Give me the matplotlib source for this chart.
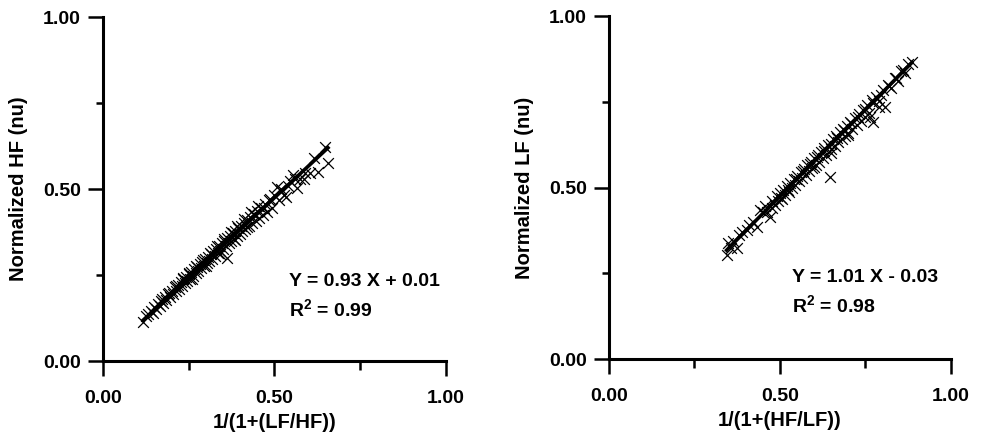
import matplotlib
matplotlib.use("Agg")
import matplotlib.pyplot as plt
import numpy as np

plt.rcParams['font.family'] = ['Liberation Sans', 'DejaVu Sans']
plt.rcParams['font.weight'] = 'bold'
plt.rcParams['mathtext.fontset'] = 'custom'
plt.rcParams['mathtext.rm'] = 'Liberation Sans:bold'
plt.rcParams['mathtext.bf'] = 'Liberation Sans:bold'

# ---- Left panel data: normalized HF vs 1/(1+(LF/HF)) ----
hf_x = [0.117, 0.125, 0.132, 0.140, 0.146, 0.150, 0.155, 0.160, 0.165, 0.170,
        0.175, 0.180, 0.185, 0.190, 0.195, 0.200, 0.205, 0.210, 0.214, 0.218,
        0.222, 0.226, 0.230, 0.234, 0.238, 0.242, 0.246, 0.250, 0.254, 0.258,
        0.262, 0.266, 0.270, 0.274, 0.278, 0.282, 0.286, 0.290, 0.294, 0.298,
        0.302, 0.306, 0.310, 0.314, 0.318, 0.322, 0.326, 0.330, 0.334, 0.338,
        0.342, 0.346, 0.350, 0.354, 0.358, 0.361, 0.362, 0.366, 0.370, 0.374,
        0.378, 0.382, 0.386, 0.390, 0.394, 0.398, 0.402, 0.406, 0.410, 0.415,
        0.420, 0.425, 0.430, 0.435, 0.440, 0.445, 0.450, 0.455, 0.460, 0.466,
        0.472, 0.478, 0.485, 0.492, 0.500, 0.506, 0.512, 0.520, 0.528, 0.535,
        0.545, 0.555, 0.565, 0.575, 0.590, 0.604, 0.615, 0.628, 0.647, 0.656,
        0.172, 0.192, 0.212, 0.232, 0.252, 0.272, 0.292, 0.312, 0.332, 0.352,
        0.372, 0.392, 0.412, 0.432, 0.452, 0.470, 0.488, 0.515, 0.540, 0.560,
        0.585, 0.342, 0.384, 0.420, 0.300, 0.260]
hf_y = [0.113, 0.130, 0.136, 0.146, 0.140, 0.158, 0.150, 0.166, 0.160, 0.176,
        0.168, 0.186, 0.178, 0.194, 0.186, 0.204, 0.195, 0.214, 0.204, 0.222,
        0.211, 0.229, 0.218, 0.238, 0.226, 0.244, 0.233, 0.252, 0.240, 0.260,
        0.248, 0.267, 0.255, 0.274, 0.262, 0.282, 0.270, 0.289, 0.277, 0.297,
        0.284, 0.304, 0.291, 0.312, 0.298, 0.319, 0.305, 0.327, 0.313, 0.334,
        0.320, 0.342, 0.327, 0.349, 0.335, 0.299, 0.357, 0.342, 0.364, 0.349,
        0.372, 0.356, 0.379, 0.363, 0.386, 0.370, 0.394, 0.377, 0.401, 0.384,
        0.410, 0.392, 0.418, 0.400, 0.428, 0.408, 0.436, 0.416, 0.446, 0.424,
        0.456, 0.433, 0.467, 0.445, 0.482, 0.506, 0.468, 0.500, 0.482, 0.477,
        0.524, 0.541, 0.503, 0.530, 0.548, 0.546, 0.590, 0.549, 0.622, 0.575,
        0.180, 0.199, 0.219, 0.241, 0.257, 0.276, 0.295, 0.315, 0.334, 0.354,
        0.374, 0.393, 0.412, 0.432, 0.451, 0.446, 0.470, 0.497, 0.510, 0.528,
        0.530, 0.312, 0.352, 0.389, 0.276, 0.240]
hf_fit = (0.93, 0.01)          # slope, intercept
hf_text = ["Y = 0.93 X + 0.01", "R$^{2}$ = 0.99"]

# ---- Right panel data: normalized LF vs 1/(1+(HF/LF)) ----
lf_x = [0.344, 0.349, 0.356, 0.362, 0.373, 0.380, 0.390, 0.403, 0.410, 0.420,
        0.432, 0.442, 0.450, 0.461, 0.471, 0.478, 0.485, 0.490, 0.495, 0.500,
        0.505, 0.510, 0.515, 0.520, 0.525, 0.530, 0.535, 0.540, 0.545, 0.550,
        0.555, 0.560, 0.565, 0.570, 0.575, 0.580, 0.585, 0.590, 0.595, 0.600,
        0.605, 0.610, 0.615, 0.620, 0.625, 0.630, 0.635, 0.640, 0.646, 0.650,
        0.655, 0.660, 0.665, 0.670, 0.675, 0.680, 0.685, 0.690, 0.695, 0.700,
        0.706, 0.712, 0.718, 0.724, 0.730, 0.736, 0.742, 0.748, 0.755, 0.763,
        0.770, 0.773, 0.780, 0.790, 0.800, 0.807, 0.815, 0.825, 0.835, 0.845,
        0.855, 0.865, 0.875, 0.885,
        0.455, 0.478, 0.502, 0.522, 0.548, 0.568, 0.588, 0.608, 0.628, 0.648,
        0.668, 0.688, 0.708, 0.728, 0.750, 0.772, 0.795, 0.820, 0.840, 0.860,
        0.600, 0.650, 0.700, 0.760, 0.790]
lf_y = [0.303, 0.337, 0.324, 0.345, 0.323, 0.362, 0.370, 0.376, 0.390, 0.400,
        0.386, 0.434, 0.430, 0.429, 0.415, 0.460, 0.450, 0.475, 0.460, 0.484,
        0.468, 0.494, 0.478, 0.504, 0.488, 0.514, 0.498, 0.524, 0.508, 0.534,
        0.518, 0.545, 0.528, 0.555, 0.538, 0.565, 0.548, 0.575, 0.556, 0.585,
        0.566, 0.595, 0.576, 0.605, 0.586, 0.615, 0.596, 0.625, 0.531, 0.612,
        0.641, 0.622, 0.651, 0.632, 0.661, 0.641, 0.671, 0.650, 0.680, 0.660,
        0.690, 0.670, 0.703, 0.682, 0.715, 0.694, 0.727, 0.706, 0.740, 0.706,
        0.755, 0.692, 0.765, 0.752, 0.786, 0.736, 0.800, 0.790, 0.820, 0.810,
        0.840, 0.835, 0.860, 0.867,
        0.445, 0.440, 0.470, 0.492, 0.526, 0.548, 0.568, 0.588, 0.608, 0.628,
        0.646, 0.668, 0.688, 0.706, 0.728, 0.748, 0.770, 0.797, 0.820, 0.842,
        0.560, 0.600, 0.652, 0.718, 0.735]
lf_fit = (1.01, -0.03)
lf_text = ["Y = 1.01 X - 0.03", "R$^{2}$ = 0.98"]

ticks_major = [0.0, 0.5, 1.0]
ticks_minor = [0.25, 0.75]
tick_labels = ["0.00", "0.50", "1.00"]

fig = plt.figure(figsize=(9.81, 4.34), dpi=100)
ax1 = fig.add_axes([0.105, 0.168, 0.3496, 0.7926])
ax2 = fig.add_axes([0.6208, 0.1728, 0.3486, 0.790])

panels = [
    (ax1, hf_x, hf_y, hf_fit, hf_text, "1/(1+(LF/HF))", "Normalized HF (nu)", (0.542, 0.218, 0.128)),
    (ax2, lf_x, lf_y, lf_fit, lf_text, "1/(1+(HF/LF))", "Normalized LF (nu)", (0.535, 0.224, 0.134)),
]

FS = 14
for ax, xs, ys, fit, txt, xl, yl, tpos in panels:
    ax.scatter(xs, ys, marker='x', s=60, c='black', linewidths=0.9, zorder=3)
    xa = np.array([min(xs), max(xs)])
    ax.plot(xa, fit[0] * xa + fit[1], color='black', lw=2.6, zorder=4)
    ax.set_xlim(0, 1)
    ax.set_ylim(0, 1)
    for s in ['top', 'right']:
        ax.spines[s].set_visible(False)
    for s in ['left', 'bottom']:
        ax.spines[s].set_linewidth(2.2)
    ax.set_xticks(ticks_major)
    ax.set_xticklabels(tick_labels)
    ax.set_yticks(ticks_major)
    ax.set_yticklabels(tick_labels)
    ax.set_xticks(ticks_minor, minor=True)
    ax.set_yticks(ticks_minor, minor=True)
    ax.tick_params(axis='x', which='major', direction='out', length=11, width=1.8, pad=10, labelsize=FS)
    ax.tick_params(axis='y', which='major', direction='out', length=11, width=1.8, pad=5, labelsize=FS)
    ax.tick_params(axis='x', which='minor', direction='out', length=6.5, width=1.8)
    ax.tick_params(axis='y', which='minor', direction='out', length=5, width=1.8)
    for lab in ax.get_xticklabels() + ax.get_yticklabels():
        lab.set_fontweight('bold')
    ax.set_xlabel(xl, fontsize=FS + 0.5, fontweight='bold', labelpad=4)
    ax.set_ylabel(yl, fontsize=FS + 0.5, fontweight='bold', labelpad=11)
    ax.text(tpos[0], tpos[1], txt[0], transform=ax.transAxes, fontsize=FS,
            fontweight='bold', va='baseline', ha='left')
    ax.text(tpos[0], tpos[2], txt[1], transform=ax.transAxes, fontsize=FS,
            fontweight='bold', va='baseline', ha='left')

fig.savefig("out.png", dpi=100)
